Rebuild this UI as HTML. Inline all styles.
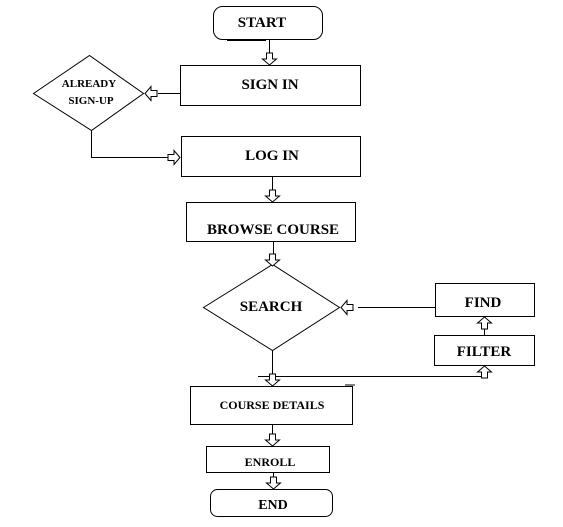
<!DOCTYPE html>
<html><head><meta charset="utf-8"><style>
html,body{margin:0;padding:0;background:#fff;}
svg{display:block;}
text{font-family:"Liberation Serif",serif;font-weight:bold;fill:#000;text-anchor:middle;}
</style></head><body>
<svg width="563" height="527" viewBox="0 0 563 527" xmlns="http://www.w3.org/2000/svg">
<defs>
<polygon id="ad" points="-3,-12 3,-12 3,-6 7,-6 0,0 -7,-6 -3,-6" fill="#fff" stroke="#000" stroke-width="1"/>
</defs>
<g fill="none" stroke="#000" stroke-width="1">
<rect x="213.5" y="6.5" width="109" height="33" rx="9"/>
<line x1="227" y1="40" x2="266" y2="40" stroke-width="2"/>
<rect x="180.5" y="65.5" width="180" height="40"/>
<polygon points="33.5,93.5 89.5,55.5 143.5,93.5 91.5,130.5"/>
<rect x="181.5" y="136.5" width="179" height="40"/>
<rect x="186.5" y="202.5" width="169" height="39"/>
<polygon points="203.5,307.5 272.5,264.5 339.5,307.5 272.5,350.5"/>
<rect x="435.5" y="283.5" width="99" height="33"/>
<rect x="434.5" y="335.5" width="100" height="30"/>
<rect x="190.5" y="386.5" width="162" height="38"/>
<line x1="345" y1="385" x2="355" y2="385"/>
<rect x="206.5" y="446.5" width="123" height="26"/>
<rect x="210.5" y="489.5" width="122" height="27" rx="7"/>
<!-- connectors -->
<line x1="269.5" y1="40" x2="269.5" y2="54"/>
<line x1="180" y1="93.5" x2="158" y2="93.5"/>
<polyline points="91.5,130 91.5,157.5 168,157.5"/>
<line x1="272.5" y1="176" x2="272.5" y2="191"/>
<line x1="273.5" y1="241" x2="273.5" y2="254"/>
<line x1="435" y1="307.5" x2="358" y2="307.5"/>
<line x1="484.5" y1="335" x2="484.5" y2="328"/>
<line x1="272.5" y1="350" x2="272.5" y2="374"/>
<line x1="258" y1="376.5" x2="485" y2="376.5"/>
<line x1="484.5" y1="376" x2="484.5" y2="377"/>
<line x1="272.5" y1="424" x2="272.5" y2="434"/>
<line x1="273.5" y1="472" x2="273.5" y2="477"/>
</g>
<use href="#ad" transform="translate(269.5,65)"/>
<use href="#ad" transform="translate(145,93.5) rotate(90)"/>
<use href="#ad" transform="translate(180,157.5) rotate(-90)"/>
<use href="#ad" transform="translate(272.5,202)"/>
<use href="#ad" transform="translate(272.5,266)"/>
<use href="#ad" transform="translate(341,307.5) rotate(90)"/>
<use href="#ad" transform="translate(484.5,317) rotate(180)"/>
<use href="#ad" transform="translate(484.5,366) rotate(180)"/>
<use href="#ad" transform="translate(272.5,386)"/>
<use href="#ad" transform="translate(272.5,446)"/>
<use href="#ad" transform="translate(273.5,489)"/>
<text x="262" y="27" font-size="15">START</text>
<text x="270" y="89" font-size="15">SIGN IN</text>
<text x="89" y="87" font-size="11">ALREADY</text>
<text x="91" y="104" font-size="11">SIGN-UP</text>
<text x="272" y="160" font-size="15">LOG IN</text>
<text x="273" y="234" font-size="15">BROWSE COURSE</text>
<text x="271" y="311" font-size="15">SEARCH</text>
<text x="483" y="307" font-size="15">FIND</text>
<text x="484" y="356" font-size="15">FILTER</text>
<text x="272" y="409" font-size="12">COURSE DETAILS</text>
<text x="270" y="466" font-size="12">ENROLL</text>
<text x="273" y="509" font-size="14">END</text>
</svg>
</body></html>
